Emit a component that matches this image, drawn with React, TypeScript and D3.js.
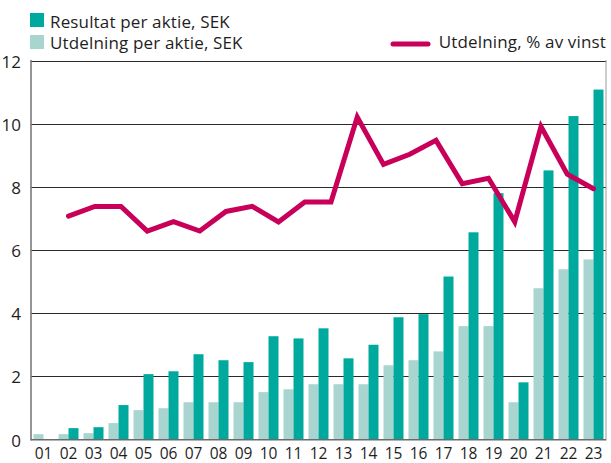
import React from "react";
import * as d3 from "d3";

const years = ["01","02","03","04","05","06","07","08","09","10","11","12","13","14","15","16","17","18","19","20","21","22","23"];
const resultat = [0,0.36,0.39,1.09,2.07,2.16,2.70,2.51,2.45,3.27,3.20,3.52,2.57,3.00,3.87,3.97,5.16,6.56,7.80,1.81,8.52,10.24,11.08];
const utdelning = [0.17,0.17,0.20,0.52,0.93,0.99,1.18,1.18,1.18,1.50,1.59,1.75,1.75,1.75,2.35,2.51,2.79,3.59,3.59,1.18,4.79,5.39,5.70];
const andel = [7.07,7.38,7.38,6.60,6.90,6.60,7.22,7.38,6.89,7.52,7.52,10.21,8.71,9.03,9.47,8.10,8.27,6.89,9.91,8.40,7.94];
const yTicks = [0,2,4,6,8,10,12];

const W = 611, H = 463;
const L = 31, R = 606, TOP = 60.5, BOT = 439.5;
const TEAL = "#00a99d", LIGHT = "#a8d5d0", MAG = "#c8005a", TXT = "#1e1e1e";
const FONT = "'Open Sans', 'Noto Sans', sans-serif";

export default function App() {
  const x = d3.scaleBand<string>().domain(years).range([L, R]).padding(0);
  const inner = d3.scaleBand<string>().domain(["u", "r"]).range([2.5, 22.5]).padding(0);
  const y = d3.scaleLinear().domain([0, 12]).range([BOT, TOP]);
  const cx = (i: number) => (x(years[i]) as number) + x.bandwidth() / 2;
  const xl = d3.scalePoint<number>().domain(d3.range(andel.length)).range([cx(1), cx(years.length - 1)]);
  const line = d3.line<number>().x((_, i) => xl(i) as number).y((d) => y(d));

  return (
    <svg width={W} height={H} style={{ position: "absolute", left: 0, top: 0, background: "#fff" }} fontFamily={FONT}>
      {yTicks.filter((t) => t > 0).map((t) => (
        <line key={t} x1={L} x2={R} y1={Math.round(y(t)) + 0.5} y2={Math.round(y(t)) + 0.5} stroke="#2a2a2a" strokeWidth={1} />
      ))}
      {years.map((yr, i) => (
        <g key={yr} transform={`translate(${x(yr)},0)`}>
          <rect x={inner("u")} width={inner.bandwidth()} y={y(utdelning[i])} height={y(0) - y(utdelning[i])} fill={LIGHT} />
          {resultat[i] > 0 && (
            <rect x={inner("r")} width={inner.bandwidth()} y={y(resultat[i])} height={y(0) - y(resultat[i])} fill={TEAL} />
          )}
        </g>
      ))}
      <line x1={L} x2={L} y1={TOP - 0.5} y2={BOT + 1} stroke="#7a7a7a" strokeWidth={1.6} />
      <line x1={R} x2={R} y1={TOP - 0.5} y2={BOT + 1} stroke="#9a9a9a" strokeWidth={1} />
      <line x1={L} x2={R} y1={BOT + 0.3} y2={BOT + 0.3} stroke="#6a6a6a" strokeWidth={1.6} />
      <path d={line(andel) || ""} fill="none" stroke={MAG} strokeWidth={5} strokeLinejoin="miter" strokeLinecap="round" />
      {yTicks.map((t) => (
        <text key={t} x={21} y={y(t) + 7} textAnchor="end" fontSize={17} fill={TXT}>{t}</text>
      ))}
      {years.map((yr) => (
        <text key={yr} x={(x(yr) as number) + x.bandwidth() / 2} y={459} textAnchor="middle" fontSize={15.5} fill={TXT}>{yr}</text>
      ))}
      <rect x={30} y={13} width={14} height={14} fill={TEAL} />
      <text x={50} y={27.5} fontSize={17} letterSpacing={0.15} fill={TXT}>Resultat per aktie, SEK</text>
      <rect x={30} y={35} width={14} height={14} fill={LIGHT} />
      <text x={50} y={48.5} fontSize={17} letterSpacing={0.15} fill={TXT}>Utdelning per aktie, SEK</text>
      <line x1={393} x2={428} y1={44} y2={44} stroke={MAG} strokeWidth={5} strokeLinecap="round" />
      <text x={606} y={48} textAnchor="end" fontSize={17} letterSpacing={0.15} fill={TXT}>Utdelning, % av vinst</text>
    </svg>
  );
}
